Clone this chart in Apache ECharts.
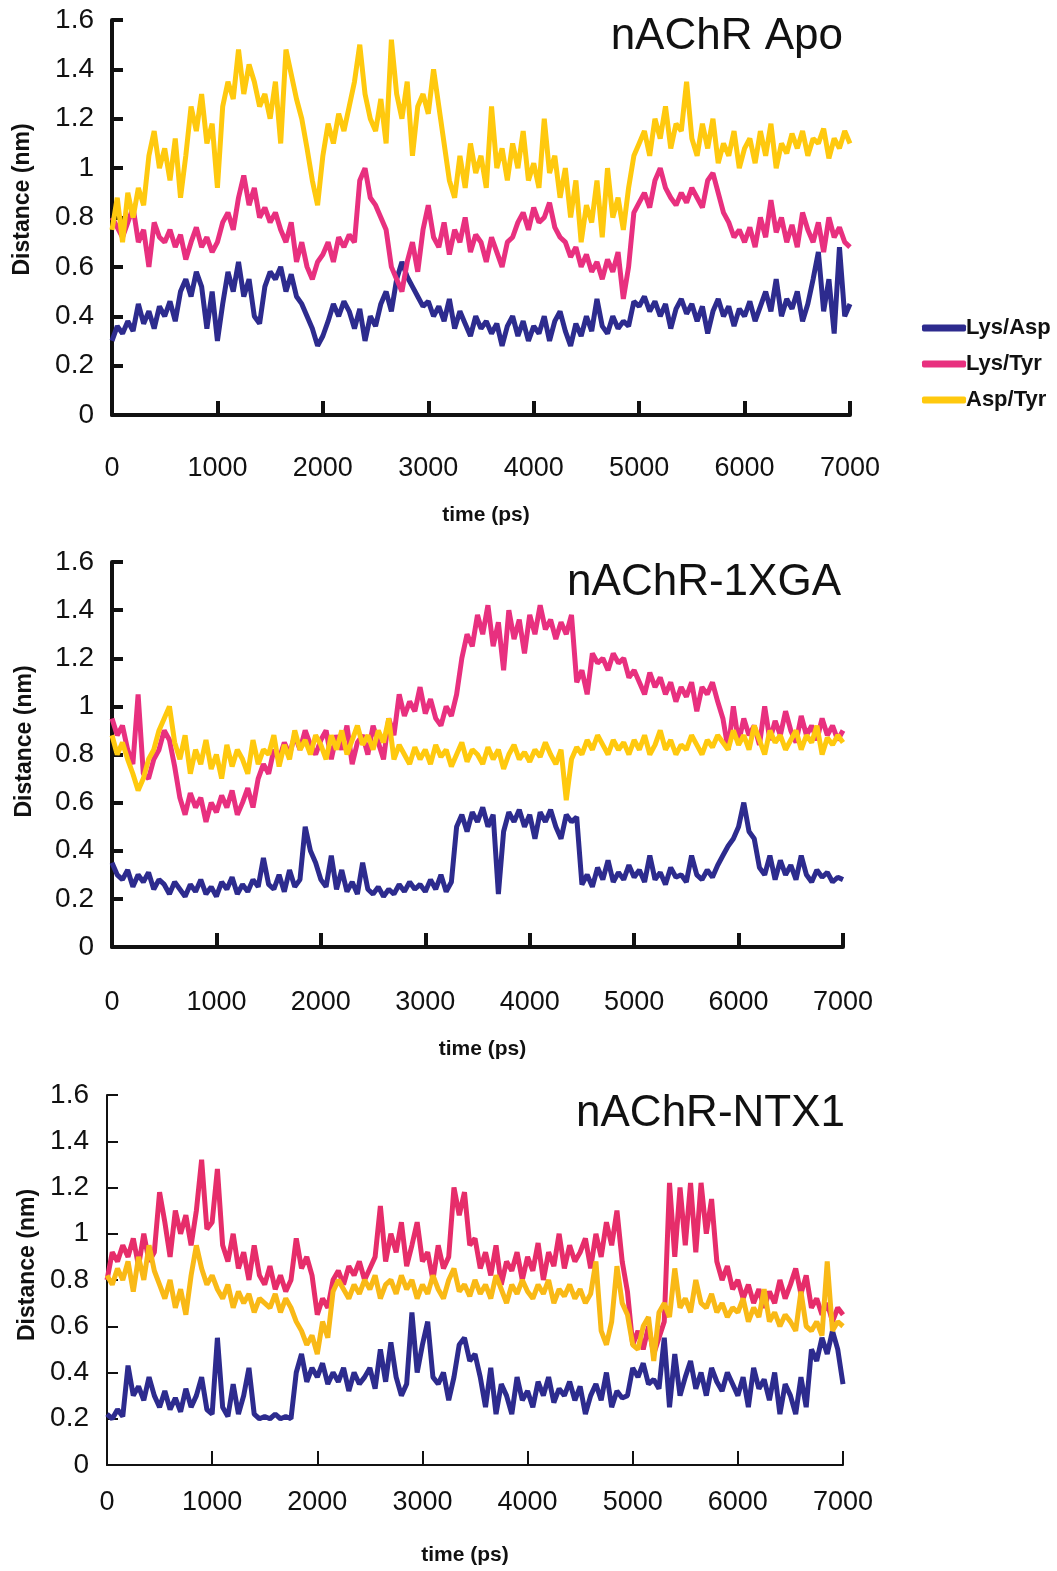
<!DOCTYPE html>
<html>
<head>
<meta charset="utf-8">
<title>Distance vs time</title>
<script src="https://cdn.jsdelivr.net/npm/echarts@6/dist/echarts.min.js"></script>
<style>
  html, body { margin: 0; padding: 0; background: #fff; }
  #chart { width: 1057px; height: 1571px; }
</style>
</head>
<body>
<div id="chart"></div>
<script>
// sampling step of the traces (ps), 0 .. 7000
const TIME_STEP = 50
const seriesNames = ['Lys/Asp', 'Lys/Tyr', 'Asp/Tyr']
const yTicks = [0, 0.2, 0.4, 0.6, 0.8, 1, 1.2, 1.4, 1.6]
const xTicks = [0, 1000, 2000, 3000, 4000, 5000, 6000, 7000]

// nAChR Apo
const apoLysAsp = [
  0.30, 0.36, 0.33, 0.38, 0.34, 0.45, 0.37, 0.42, 0.35, 0.44,
  0.40, 0.46, 0.38, 0.50, 0.55, 0.48, 0.58, 0.52, 0.35, 0.50,
  0.30, 0.45, 0.58, 0.50, 0.62, 0.48, 0.55, 0.40, 0.37, 0.52,
  0.58, 0.55, 0.60, 0.50, 0.57, 0.48, 0.45, 0.40, 0.35, 0.28,
  0.32, 0.38, 0.45, 0.40, 0.46, 0.42, 0.35, 0.43, 0.30, 0.40,
  0.36, 0.45, 0.50, 0.42, 0.55, 0.62, 0.56, 0.52, 0.48, 0.44,
  0.46, 0.40, 0.44, 0.38, 0.47, 0.35, 0.42, 0.37, 0.32, 0.40,
  0.35, 0.38, 0.33, 0.37, 0.28, 0.36, 0.40, 0.32, 0.38, 0.30,
  0.36, 0.33, 0.40, 0.30, 0.38, 0.42, 0.34, 0.28, 0.37, 0.32,
  0.40, 0.34, 0.47, 0.36, 0.33, 0.40, 0.35, 0.38, 0.36, 0.46,
  0.44, 0.48, 0.42, 0.46, 0.40, 0.45, 0.35, 0.43, 0.47, 0.41,
  0.45, 0.38, 0.44, 0.33, 0.42, 0.47, 0.40, 0.44, 0.36, 0.43,
  0.40, 0.46, 0.38, 0.44, 0.50, 0.42, 0.55, 0.40, 0.47, 0.43,
  0.50, 0.38, 0.45, 0.55, 0.66, 0.42, 0.55, 0.33, 0.68, 0.40,
  0.45
]
const apoLysTyr = [
  0.80, 0.76, 0.72, 0.78, 0.84, 0.70, 0.75, 0.60, 0.78, 0.72,
  0.70, 0.75, 0.68, 0.73, 0.63, 0.70, 0.76, 0.68, 0.72, 0.66,
  0.70, 0.78, 0.82, 0.75, 0.88, 0.97, 0.85, 0.92, 0.80, 0.84,
  0.78, 0.82, 0.75, 0.70, 0.78, 0.62, 0.70, 0.60, 0.55, 0.62,
  0.65, 0.70, 0.62, 0.72, 0.68, 0.73, 0.70, 0.95, 1.00, 0.88,
  0.85, 0.80, 0.75, 0.60, 0.55, 0.50, 0.62, 0.70, 0.58, 0.75,
  0.85, 0.72, 0.68, 0.78, 0.65, 0.75, 0.70, 0.80, 0.66, 0.73,
  0.70, 0.62, 0.72, 0.66, 0.60, 0.70, 0.72, 0.78, 0.82, 0.75,
  0.84, 0.78, 0.80, 0.86, 0.76, 0.72, 0.70, 0.64, 0.68, 0.60,
  0.65, 0.58, 0.62, 0.55, 0.63, 0.58, 0.66, 0.47, 0.60, 0.82,
  0.86, 0.90, 0.84, 0.95, 1.00, 0.92, 0.88, 0.85, 0.90, 0.86,
  0.92, 0.88, 0.84, 0.95, 0.98, 0.90, 0.82, 0.78, 0.72, 0.75,
  0.70, 0.76, 0.68, 0.80, 0.72, 0.87, 0.74, 0.80, 0.70, 0.77,
  0.68, 0.82, 0.75, 0.70, 0.78, 0.66, 0.80, 0.72, 0.76, 0.70,
  0.68
]
const apoAspTyr = [
  0.75, 0.88, 0.70, 0.90, 0.80, 0.92, 0.85, 1.05, 1.15, 1.00,
  1.08, 0.95, 1.12, 0.88, 1.05, 1.25, 1.15, 1.30, 1.10, 1.18,
  0.92, 1.25, 1.35, 1.28, 1.48, 1.30, 1.42, 1.35, 1.25, 1.30,
  1.20, 1.35, 1.10, 1.48, 1.38, 1.28, 1.20, 1.08, 0.95, 0.85,
  1.05, 1.18, 1.10, 1.22, 1.15, 1.25, 1.35, 1.50, 1.30, 1.20,
  1.15, 1.28, 1.10, 1.52, 1.30, 1.20, 1.35, 1.05, 1.25, 1.30,
  1.22, 1.40, 1.25, 1.10, 0.95, 0.88, 1.05, 0.92, 1.10, 0.98,
  1.05, 0.92, 1.25, 1.00, 1.08, 0.95, 1.10, 1.00, 1.15, 0.95,
  1.02, 0.92, 1.20, 0.98, 1.05, 0.88, 1.00, 0.80, 0.95, 0.70,
  0.85, 0.78, 0.95, 0.72, 1.00, 0.80, 0.88, 0.75, 0.92, 1.05,
  1.10, 1.15, 1.05, 1.20, 1.12, 1.25, 1.08, 1.18, 1.15, 1.35,
  1.12, 1.05, 1.18, 1.08, 1.20, 1.02, 1.10, 1.05, 1.15, 1.00,
  1.08, 1.12, 1.02, 1.15, 1.05, 1.18, 1.00, 1.10, 1.06, 1.14,
  1.08, 1.15, 1.05, 1.12, 1.10, 1.16, 1.04, 1.12, 1.08, 1.15,
  1.10
]

// nAChR-1XGA
const xgaLysAsp = [
  0.35, 0.30, 0.28, 0.32, 0.25, 0.30, 0.27, 0.31, 0.24, 0.28,
  0.26, 0.22, 0.27, 0.24, 0.21, 0.26, 0.23, 0.28, 0.22, 0.25,
  0.21, 0.27, 0.24, 0.29, 0.22, 0.26, 0.23, 0.28, 0.25, 0.37,
  0.26, 0.24, 0.30, 0.23, 0.32, 0.25, 0.28, 0.50, 0.40, 0.35,
  0.28, 0.25, 0.38, 0.24, 0.32, 0.23, 0.27, 0.22, 0.35, 0.24,
  0.22, 0.25, 0.21, 0.24, 0.22, 0.26, 0.23, 0.27, 0.24, 0.26,
  0.23, 0.28, 0.24, 0.30, 0.23, 0.27, 0.50, 0.55, 0.48, 0.56,
  0.52, 0.58, 0.50, 0.55, 0.22, 0.48, 0.56, 0.52, 0.57, 0.50,
  0.55, 0.45, 0.56, 0.52, 0.57, 0.50, 0.45, 0.55, 0.52, 0.54,
  0.26, 0.30, 0.25, 0.33, 0.28, 0.36, 0.27, 0.31, 0.28, 0.34,
  0.29, 0.32, 0.27, 0.38, 0.28, 0.31, 0.26, 0.33, 0.29, 0.30,
  0.27, 0.38, 0.30, 0.28, 0.32, 0.29, 0.34, 0.38, 0.42, 0.45,
  0.50, 0.60, 0.48, 0.45, 0.33, 0.30, 0.38, 0.28, 0.36, 0.30,
  0.34, 0.28, 0.38, 0.30, 0.27, 0.32, 0.29, 0.31, 0.27, 0.29,
  0.28
]
const xgaLysTyr = [
  0.95, 0.88, 0.92, 0.82, 0.76, 1.05, 0.72, 0.70, 0.78, 0.82,
  0.90, 0.86, 0.75, 0.62, 0.55, 0.64, 0.58, 0.62, 0.52, 0.60,
  0.56, 0.63, 0.58, 0.65, 0.55, 0.60, 0.66, 0.58, 0.70, 0.76,
  0.72, 0.82, 0.78, 0.85, 0.80, 0.88, 0.82, 0.90, 0.84, 0.80,
  0.86, 0.90, 0.78, 0.88, 0.82, 0.92, 0.76, 0.85, 0.88, 0.80,
  0.92, 0.85, 0.78, 0.95, 0.88, 1.05, 0.96, 1.02, 0.98, 1.08,
  0.97, 1.03, 0.95, 0.92, 1.00, 0.96, 1.05, 1.20, 1.30, 1.25,
  1.38, 1.30, 1.42, 1.25, 1.35, 1.15, 1.40, 1.28, 1.36, 1.22,
  1.38, 1.30, 1.42, 1.32, 1.36, 1.28, 1.35, 1.30, 1.38, 1.10,
  1.15, 1.05, 1.22, 1.18, 1.20, 1.15, 1.22, 1.18, 1.20, 1.12,
  1.15, 1.10, 1.05, 1.14, 1.08, 1.12, 1.05, 1.10, 1.02, 1.08,
  1.04, 1.10, 0.98, 1.08, 1.05, 1.10, 1.02, 0.95, 0.82, 1.00,
  0.85, 0.95, 0.88, 0.92, 0.84, 1.00, 0.86, 0.94, 0.88, 0.98,
  0.90, 0.85, 0.96, 0.88, 0.92, 0.86, 0.95, 0.88, 0.92, 0.86,
  0.90
]
const xgaAspTyr = [
  0.88, 0.80, 0.85, 0.78, 0.72, 0.65, 0.70, 0.78, 0.82, 0.90,
  0.95, 1.00, 0.85, 0.78, 0.88, 0.72, 0.82, 0.76, 0.86, 0.74,
  0.80, 0.70, 0.84, 0.75, 0.82, 0.78, 0.72, 0.86, 0.76, 0.82,
  0.80, 0.88, 0.75, 0.84, 0.78, 0.90, 0.82, 0.86, 0.80, 0.88,
  0.84, 0.78, 0.88, 0.82, 0.90, 0.80, 0.86, 0.92, 0.84, 0.88,
  0.82, 0.90, 0.85, 0.95, 0.78, 0.84, 0.80, 0.76, 0.83, 0.78,
  0.82, 0.76, 0.84, 0.79, 0.82, 0.75, 0.80, 0.85, 0.77, 0.82,
  0.80, 0.76, 0.83, 0.78, 0.82, 0.74, 0.80, 0.84, 0.78, 0.81,
  0.77, 0.82, 0.79, 0.85, 0.80, 0.76, 0.82, 0.61, 0.78, 0.83,
  0.80, 0.86, 0.82, 0.88, 0.84, 0.80, 0.86, 0.82, 0.85, 0.80,
  0.86, 0.82, 0.88, 0.80, 0.84, 0.90, 0.82, 0.86, 0.80, 0.84,
  0.82, 0.88, 0.84, 0.80, 0.86, 0.83, 0.88, 0.85, 0.82, 0.90,
  0.84, 0.88, 0.82, 0.92, 0.86, 0.80, 0.90, 0.85, 0.88, 0.82,
  0.86, 0.90, 0.82, 0.88, 0.85, 0.92, 0.80, 0.87, 0.84, 0.88,
  0.85
]

// nAChR-NTX1
const ntxLysAsp = [
  0.22, 0.20, 0.24, 0.21, 0.43, 0.30, 0.34, 0.28, 0.38, 0.30,
  0.25, 0.32, 0.24, 0.29, 0.23, 0.33, 0.25, 0.30, 0.38, 0.24,
  0.22, 0.55, 0.25, 0.21, 0.35, 0.22, 0.30, 0.42, 0.22, 0.20,
  0.21, 0.20, 0.22, 0.20, 0.21, 0.20, 0.40, 0.48, 0.36, 0.42,
  0.38, 0.44, 0.35, 0.40, 0.36, 0.42, 0.32, 0.40, 0.35, 0.38,
  0.42, 0.33, 0.50, 0.36, 0.53, 0.38, 0.30, 0.35, 0.66, 0.40,
  0.52, 0.62, 0.38, 0.35, 0.40, 0.28, 0.38, 0.52, 0.55, 0.45,
  0.48, 0.38, 0.25, 0.42, 0.22, 0.35, 0.30, 0.22, 0.38, 0.28,
  0.32, 0.25, 0.36, 0.30, 0.38, 0.27, 0.33, 0.30, 0.36, 0.28,
  0.34, 0.22, 0.30, 0.35, 0.28, 0.40, 0.25, 0.32, 0.29, 0.30,
  0.42, 0.38, 0.44, 0.35, 0.37, 0.33, 0.55, 0.25, 0.48, 0.30,
  0.38, 0.45, 0.33, 0.40, 0.30, 0.42, 0.36, 0.32, 0.40, 0.35,
  0.30, 0.38, 0.25, 0.42, 0.33, 0.37, 0.28, 0.40, 0.22, 0.35,
  0.30, 0.22, 0.38, 0.25, 0.50, 0.45, 0.55, 0.48, 0.58, 0.50,
  0.35
]
const ntxLysTyr = [
  0.80, 0.92, 0.88, 0.95, 0.90, 0.98, 0.86, 1.00, 0.88, 0.92,
  1.18, 1.05, 0.90, 1.10, 1.00, 1.08, 0.95, 1.10, 1.32, 1.02,
  1.05, 1.28, 0.95, 0.88, 1.00, 0.85, 0.92, 0.80, 0.95, 0.82,
  0.78, 0.86, 0.76, 0.82, 0.75, 0.80, 0.98, 0.85, 0.90, 0.82,
  0.65, 0.72, 0.68, 0.80, 0.84, 0.78, 0.86, 0.82, 0.88, 0.80,
  0.85, 0.90, 1.12, 0.88, 1.00, 0.92, 1.05, 0.86, 0.95, 1.05,
  0.88, 0.92, 0.80, 0.95, 0.85, 0.90, 1.20, 1.08, 1.18, 0.95,
  0.98, 0.85, 0.92, 0.82, 0.95, 0.78, 0.88, 0.84, 0.92, 0.80,
  0.90, 0.84, 0.96, 0.80, 0.92, 0.86, 1.00, 0.85, 0.95, 0.88,
  0.92, 0.98, 0.85, 1.00, 0.90, 1.05, 0.95, 1.10, 0.88, 0.75,
  0.52, 0.58, 0.50, 0.60, 0.48, 0.55, 0.62, 1.22, 0.90, 1.20,
  0.95, 1.22, 0.92, 1.22, 1.00, 1.15, 0.88, 0.80, 0.86, 0.76,
  0.80, 0.72, 0.78, 0.70, 0.76, 0.68, 0.75, 0.70, 0.80, 0.72,
  0.78, 0.85, 0.74, 0.82, 0.68, 0.72, 0.65, 0.70, 0.62, 0.68,
  0.65
]
const ntxAspTyr = [
  0.82, 0.78, 0.85, 0.80, 0.88, 0.75, 0.90, 0.80, 0.95, 0.84,
  0.78, 0.72, 0.80, 0.68, 0.76, 0.65, 0.82, 0.95, 0.85, 0.78,
  0.82, 0.76, 0.72, 0.78, 0.68, 0.75, 0.70, 0.74, 0.66, 0.72,
  0.70, 0.68, 0.74, 0.66, 0.72, 0.68, 0.62, 0.58, 0.52, 0.56,
  0.48, 0.62, 0.55, 0.75, 0.80, 0.76, 0.72, 0.78, 0.74, 0.80,
  0.76, 0.82, 0.72, 0.78, 0.80, 0.74, 0.82, 0.76, 0.80, 0.72,
  0.78, 0.74, 0.82, 0.76, 0.72, 0.80, 0.85, 0.75, 0.78, 0.73,
  0.80, 0.74, 0.78, 0.72, 0.82, 0.76, 0.70, 0.78, 0.74, 0.80,
  0.75, 0.72, 0.78, 0.74, 0.80, 0.70, 0.76, 0.73, 0.78, 0.72,
  0.76, 0.70, 0.74, 0.88, 0.58, 0.52, 0.62, 0.86, 0.70, 0.65,
  0.52, 0.50, 0.60, 0.64, 0.45, 0.66, 0.70, 0.64, 0.85, 0.68,
  0.72, 0.66, 0.80, 0.70, 0.68, 0.74, 0.66, 0.70, 0.64, 0.68,
  0.66, 0.72, 0.62, 0.68, 0.64, 0.76, 0.62, 0.66, 0.60, 0.65,
  0.62, 0.58, 0.75, 0.60, 0.58, 0.62, 0.56, 0.88, 0.58, 0.62,
  0.60
]

const FONT = '"Liberation Sans", Arial, sans-serif'

// 每个面板的位置和样式
const panels = [
  {
    title: 'nAChR Apo',
    values: [apoLysAsp, apoLysTyr, apoAspTyr],
    colors: ['#2D2B8E', '#E8307F', '#FFC90E'],
    grid: { left: 112, top: 20, width: 738, height: 395 },
    titlePos: { right: 209, top: 10 },
    axisWidth: 4,
    yNameGap: 78,
    yNameShift: 36,
    xNameGap: 90,
    xNameShift: 10,
    xLabelMargin: 40
  },
  {
    title: 'nAChR-1XGA',
    values: [xgaLysAsp, xgaLysTyr, xgaAspTyr],
    colors: ['#2D2B8E', '#E8307F', '#FFC90E'],
    grid: { left: 112, top: 562, width: 731, height: 385 },
    titlePos: { right: 211, top: 556 },
    axisWidth: 4,
    yNameGap: 76,
    yNameShift: 26,
    xNameGap: 92,
    xNameShift: 10,
    xLabelMargin: 42
  },
  {
    title: 'nAChR-NTX1',
    values: [ntxLysAsp, ntxLysTyr, ntxAspTyr],
    colors: ['#2D2B8E', '#E62D6A', '#F9B916'],
    grid: { left: 107, top: 1095, width: 736, height: 370 },
    titlePos: { right: 207, top: 1087 },
    axisWidth: 2,
    yNameGap: 64,
    yNameShift: 30,
    xNameGap: 80,
    xNameShift: -20,
    xLabelMargin: 24
  }
]

const times = apoLysAsp.map((v, i) => i * TIME_STEP)

const Options = () => ({
  animation: false,
  backgroundColor: '#fff',
  textStyle: { fontFamily: FONT, color: '#111' },
  title: panels.map(p => ({
    text: p.title,
    right: p.titlePos.right,
    top: p.titlePos.top,
    textStyle: { fontFamily: FONT, fontSize: 44, fontWeight: 'normal', color: '#111' }
  })),
  legend: {
    orient: 'vertical',
    left: 917,
    top: 312,
    itemGap: 14,
    itemWidth: 44,
    itemHeight: 7,
    icon: 'roundRect',
    data: seriesNames,
    textStyle: { fontFamily: FONT, fontSize: 22, fontWeight: 'bold', color: '#111', padding: [0, 0, 0, -5] }
  },
  grid: panels.map(p => ({ ...p.grid, containLabel: false })),
  xAxis: panels.map((p, i) => ({
    type: 'value',
    gridIndex: i,
    min: xTicks[0],
    max: xTicks[xTicks.length - 1],
    interval: xTicks[1] - xTicks[0],
    name: 'time (ps)',
    nameLocation: 'middle',
    nameGap: p.xNameGap,
    nameTextStyle: {
      fontFamily: FONT,
      fontSize: 21,
      fontWeight: 'bold',
      color: '#111',
      padding: [0, 0, 0, p.xNameShift]
    },
    axisLine: { show: true, lineStyle: { color: '#111', width: p.axisWidth } },
    axisTick: { show: true, inside: true, length: 14, lineStyle: { color: '#111', width: p.axisWidth } },
    axisLabel: {
      fontFamily: FONT,
      fontSize: 27,
      color: '#111',
      margin: p.xLabelMargin,
      formatter: v => String(v)
    },
    splitLine: { show: false }
  })),
  yAxis: panels.map((p, i) => ({
    type: 'value',
    gridIndex: i,
    min: yTicks[0],
    max: yTicks[yTicks.length - 1],
    interval: yTicks[1] - yTicks[0],
    name: 'Distance (nm)',
    nameLocation: 'middle',
    nameGap: p.yNameGap,
    nameTextStyle: {
      fontFamily: FONT,
      fontSize: 23,
      fontWeight: 'bold',
      color: '#111',
      padding: [0, 0, 0, p.yNameShift]
    },
    axisLine: { show: true, lineStyle: { color: '#111', width: p.axisWidth } },
    axisTick: { show: true, inside: true, length: 11, lineStyle: { color: '#111', width: p.axisWidth } },
    axisLabel: {
      fontFamily: FONT,
      fontSize: 28,
      color: '#111',
      margin: 18,
      formatter: v => String(Math.round(v * 10) / 10)
    },
    splitLine: { show: false }
  })),
  series: panels.flatMap((p, i) => p.values.map((vals, k) => ({
    name: seriesNames[k],
    type: 'line',
    xAxisIndex: i,
    yAxisIndex: i,
    showSymbol: false,
    symbol: 'none',
    color: p.colors[k],
    lineStyle: { width: 5, color: p.colors[k], join: 'bevel' },
    z: 2 + k,
    data: times.map((t, j) => [t, vals[j]])
  })))
})

var myChart = echarts.init(document.getElementById('chart'), null, { renderer: 'canvas' })
myChart.setOption(Options(), true)
</script>
</body>
</html>
